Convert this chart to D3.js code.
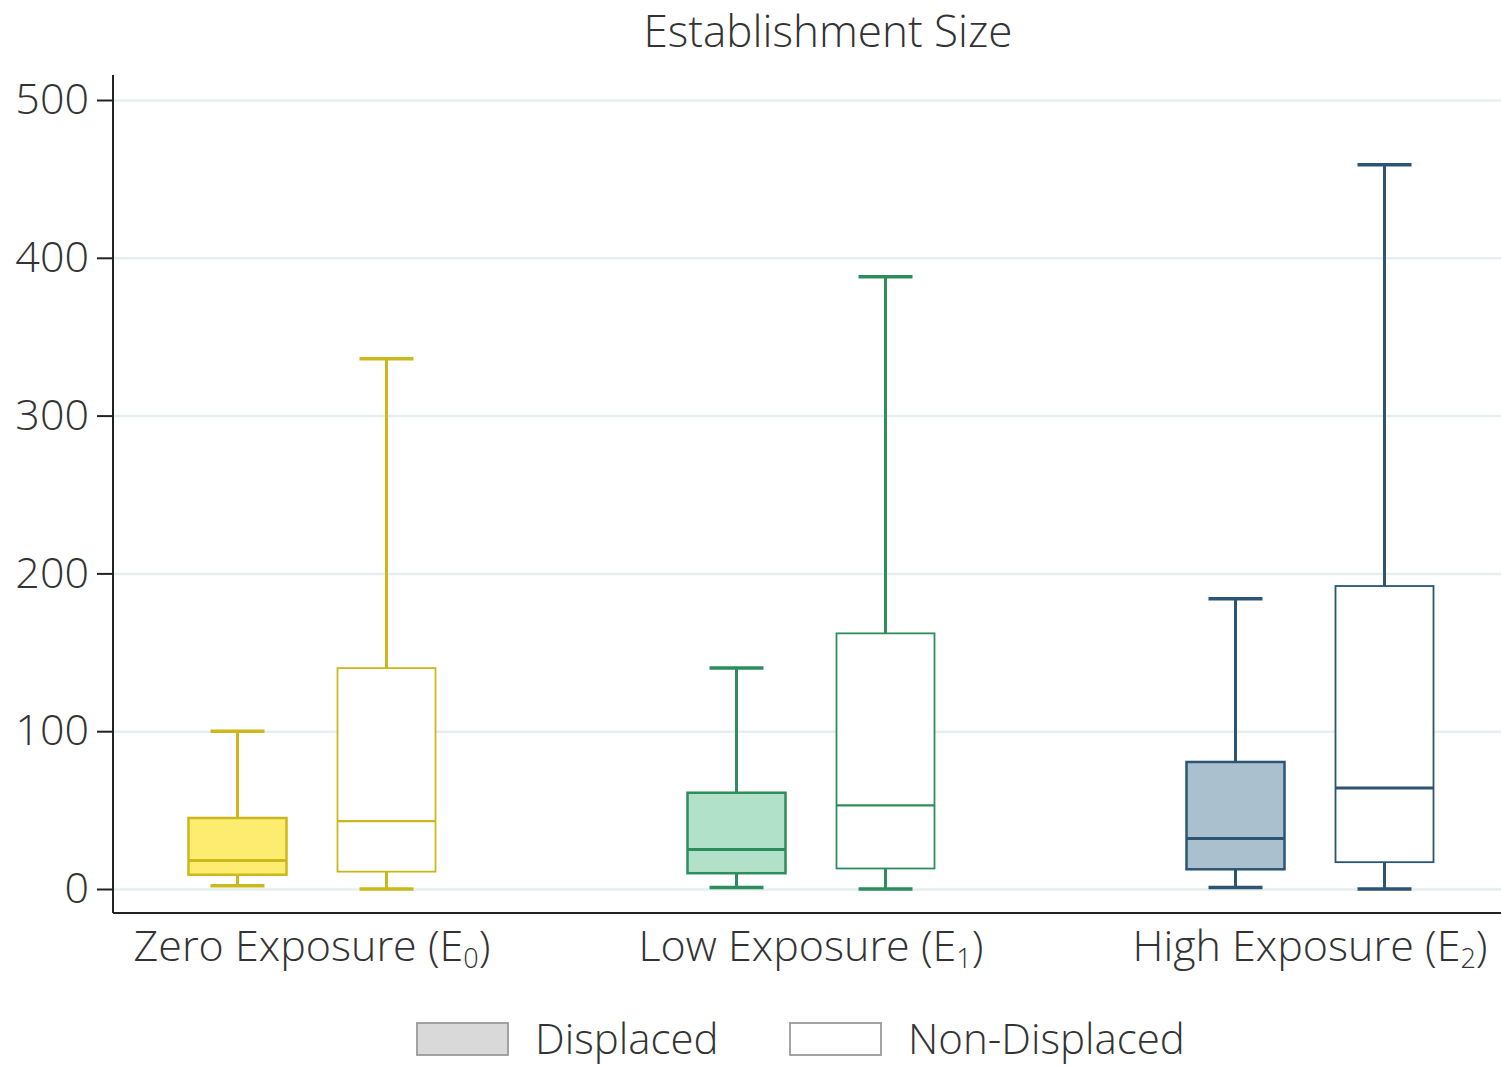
<!DOCTYPE html>
<html>
<head>
<meta charset="utf-8">
<script src="https://cdn.jsdelivr.net/npm/d3@7"></script>
<style>
  body { margin: 0; background: #fff; }
  text { font-family: "Open Sans", "Segoe UI", sans-serif; font-weight: 300; fill: #333; }
</style>
</head>
<body>
<div id="chart"></div>
<script>
// categories and groups
var categories = ["Zero Exposure", "Low Exposure", "High Exposure"];
var subscripts = ["0", "1", "2"];
var groups = ["Displaced", "Non-Displaced"];

// box stats: [lower whisker, Q1, median, Q3, upper whisker]
var displaced = [
  [2, 9, 18, 45, 100],
  [1, 10, 25, 61, 140],
  [1, 12.5, 32, 80.5, 184]
];
var nonDisplaced = [
  [0, 11, 43, 140, 336],
  [0, 13, 53, 162, 388],
  [0, 17, 64, 192, 459]
];

var yTicks = [0, 100, 200, 300, 400, 500];

var strokeCol = ["#cbb81c", "#2e8d5c", "#2c5474"];
var fillCol = ["#fdec6f", "#b1e1c8", "#aac0cf"];

var width = 1501, height = 1068;
var margin = {top: 75, left: 113, bottom: 913, right: 1501};

var svg = d3.select("#chart").append("svg")
    .attr("width", width)
    .attr("height", height);

var y = d3.scaleLinear()
    .domain([0, 500])
    .range([889, 100]);

var x = d3.scalePoint()
    .domain(categories)
    .range([312, 1310]);

var xSub = d3.scalePoint()
    .domain(groups)
    .range([-74.5, 74.5]);

var boxW = 98, capW = 54;

// grid lines
svg.append("g")
    .attr("class", "grid")
    .attr("transform", "translate(" + margin.left + ",0)")
    .call(d3.axisLeft(y).tickValues(yTicks).tickSize(-(width - margin.left)).tickFormat(""))
    .call(function(g) {
      g.select(".domain").remove();
      g.selectAll("line").attr("stroke", "#e6efef").attr("stroke-width", 2.5);
    });

// y axis
svg.append("g")
    .attr("transform", "translate(" + margin.left + ",0)")
    .call(d3.axisLeft(y).tickValues(yTicks).tickSize(16).tickPadding(8))
    .call(function(g) {
      g.select(".domain").remove();
      g.selectAll("line").attr("stroke", "#222").attr("stroke-width", 2);
      g.selectAll("text").attr("font-size", 43).attr("fill", "#333")
        .style("font-family", "\"Open Sans\", sans-serif").style("font-weight", 300);
    });

svg.append("line")
    .attr("x1", margin.left).attr("x2", margin.left)
    .attr("y1", margin.top).attr("y2", margin.bottom)
    .attr("stroke", "#222").attr("stroke-width", 2);
svg.append("line")
    .attr("x1", margin.left).attr("x2", width)
    .attr("y1", margin.bottom).attr("y2", margin.bottom)
    .attr("stroke", "#222").attr("stroke-width", 2);

// title
svg.append("text")
    .attr("x", 828).attr("y", 47)
    .attr("text-anchor", "middle")
    .attr("font-size", 44)
    .text("Establishment Size");

// x labels with subscripts
categories.forEach(function(c, i) {
  var t = svg.append("text")
      .attr("x", x(c)).attr("y", 961)
      .attr("text-anchor", "middle")
      .attr("font-size", 43);
  t.append("tspan").text(c + " (E");
  t.append("tspan").attr("font-size", 27).attr("dy", 7).text(subscripts[i]);
  t.append("tspan").attr("dy", -7).text(")");
});

// boxes
function drawBox(stats, i, grp) {
  var cx = x(categories[i]) + xSub(grp);
  var filled = grp === "Displaced";
  var g = svg.append("g").attr("stroke", strokeCol[i]);
  // whiskers
  g.append("line")
      .attr("x1", cx).attr("x2", cx)
      .attr("y1", y(stats[4])).attr("y2", y(stats[3]))
      .attr("stroke-width", 3);
  g.append("line")
      .attr("x1", cx).attr("x2", cx)
      .attr("y1", y(stats[1])).attr("y2", y(stats[0]))
      .attr("stroke-width", 3);
  [stats[0], stats[4]].forEach(function(v) {
    g.append("line")
        .attr("x1", cx - capW / 2).attr("x2", cx + capW / 2)
        .attr("y1", y(v)).attr("y2", y(v))
        .attr("stroke-width", 3.5);
  });
  g.append("rect")
      .attr("x", cx - boxW / 2).attr("width", boxW)
      .attr("y", y(stats[3])).attr("height", y(stats[1]) - y(stats[3]))
      .attr("fill", filled ? fillCol[i] : "#fff")
      .attr("stroke-width", filled ? 2.5 : 1.8);
  g.append("line")
      .attr("x1", cx - boxW / 2).attr("x2", cx + boxW / 2)
      .attr("y1", y(stats[2])).attr("y2", y(stats[2]))
      .attr("stroke-width", (filled || i === 2) ? 3 : 2.2);
}

displaced.forEach(function(s, i) { drawBox(s, i, "Displaced"); });
nonDisplaced.forEach(function(s, i) { drawBox(s, i, "Non-Displaced"); });

// legend
var legend = svg.append("g");
var legX = [417, 790];
groups.forEach(function(gname, i) {
  legend.append("rect")
      .attr("x", legX[i]).attr("y", 1023)
      .attr("width", 91).attr("height", 32)
      .attr("fill", i === 0 ? "#d9d9d9" : "#fff")
      .attr("stroke", "#9a9a9a").attr("stroke-width", 1.8);
  legend.append("text")
      .attr("x", legX[i] + 118).attr("y", 1054)
      .attr("font-size", 42)
      .text(gname);
});
</script>
</body>
</html>
